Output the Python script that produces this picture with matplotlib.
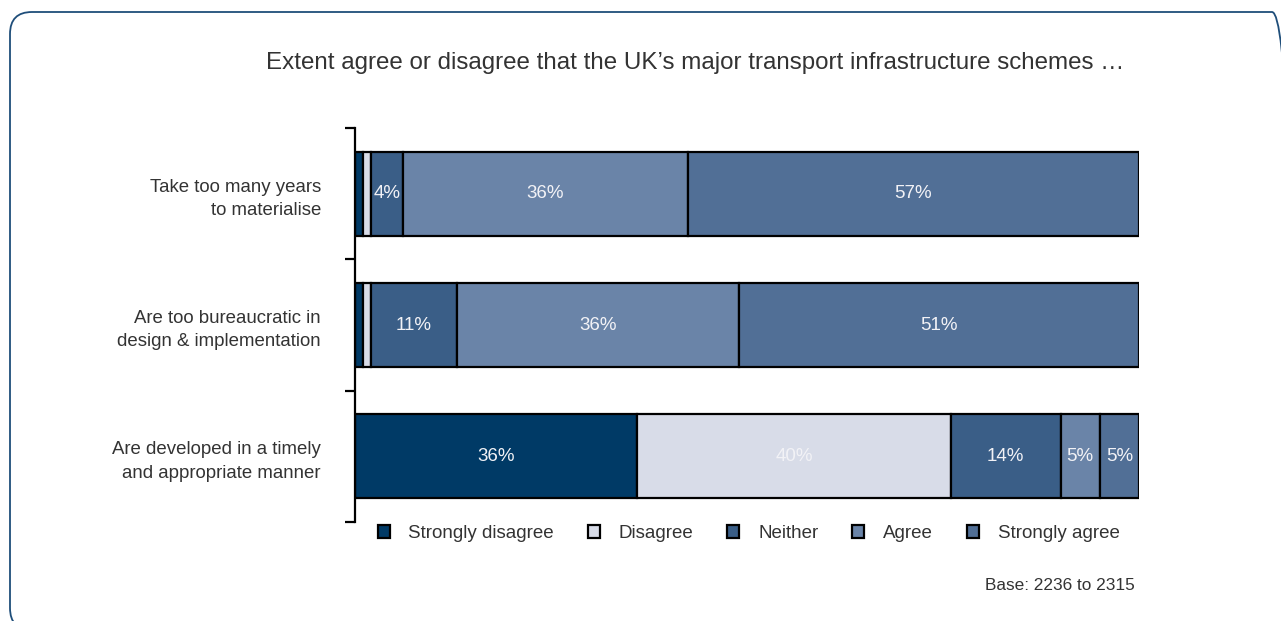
import matplotlib.pyplot as plt
import numpy as np
from matplotlib.patches import FancyBboxPatch, Patch

plt.rcParams['font.family'] = ['Liberation Sans', 'DejaVu Sans']

categories = ["Take too many years\nto materialise",
              "Are too bureaucratic in\ndesign & implementation",
              "Are developed in a timely\nand appropriate manner"]
responses = ["Strongly disagree", "Disagree", "Neither", "Agree", "Strongly agree"]
strongly_disagree = [1, 1, 36]
disagree = [1, 1, 40]
neither = [4, 11, 14]
agree = [36, 36, 5]
strongly_agree = [57, 51, 5]
colors = ["#003a66", "#d8dce8", "#3a5e87", "#6a84a8", "#516f96"]

title = "Extent agree or disagree that the UK\u2019s major transport infrastructure schemes \u2026"
base_note = "Base: 2236 to 2315"

series = np.array([strongly_disagree, disagree, neither, agree, strongly_agree], dtype=float)
# bars are drawn as shares of each row's total (rounded figures don't always add to 100)
shares = series / series.sum(axis=0) * 100

fig = plt.figure(figsize=(12.81, 6.21), dpi=100)

# rounded frame, partly off the canvas
frame = FancyBboxPatch((0.10, -0.09), 12.84, 6.18,
                       boxstyle="round,pad=0,rounding_size=0.22",
                       transform=fig.dpi_scale_trans, fill=False,
                       edgecolor="#1f4e7a", linewidth=1.3, clip_on=False)
fig.patches.append(frame)

ax = fig.add_axes([355 / 1281, 99 / 621, 784 / 1281, 394 / 621])

y = np.arange(len(categories))
left = np.zeros(len(categories))
for vals, shr, col, name in zip(series, shares, colors, responses):
    ax.barh(y, shr, left=left, height=0.64, color=col,
            edgecolor="black", linewidth=1.6, label=name)
    for yi, v, w, l in zip(y, vals, shr, left):
        if v >= 4:
            ax.text(l + w / 2, yi, f"{int(v)}%", ha="center", va="center",
                    color="#f2f2f6", fontsize=13.5)
    left += shr

ax.set_xlim(0, 100)
ax.set_ylim(2.5, -0.5)
for s in ["top", "right", "bottom"]:
    ax.spines[s].set_visible(False)
ax.spines["left"].set_linewidth(1.6)
ax.set_xticks([])
ax.set_yticks([-0.5, 0.5, 1.5, 2.5])
ax.set_yticklabels([])
ax.tick_params(axis="y", which="major", length=7, width=1.6)
ax.set_yticks(y, minor=True)
ax.set_yticklabels(categories, minor=True, fontsize=13.4, color="#333333",
                   linespacing=1.5)
ax.tick_params(axis="y", which="minor", length=0, pad=24.5)

handles = [Patch(facecolor=c, edgecolor="black", linewidth=1.6) for c in colors]
leg = ax.legend(handles, responses, ncol=5, loc="upper center",
                bbox_to_anchor=(0.502, 0.035), frameon=False, fontsize=13.5,
                handlelength=0.65, handleheight=0.65, handletextpad=1.0,
                columnspacing=1.8, labelcolor="#333333")

fig.text(695 / 1281, 1 - 63 / 621, title, ha="center", va="center",
         fontsize=17.4, color="#333333")
fig.text(1135 / 1281, 1 - 586 / 621, base_note, ha="right", va="center",
         fontsize=12.4, color="#333333")

fig.savefig("out.png", dpi=100)
